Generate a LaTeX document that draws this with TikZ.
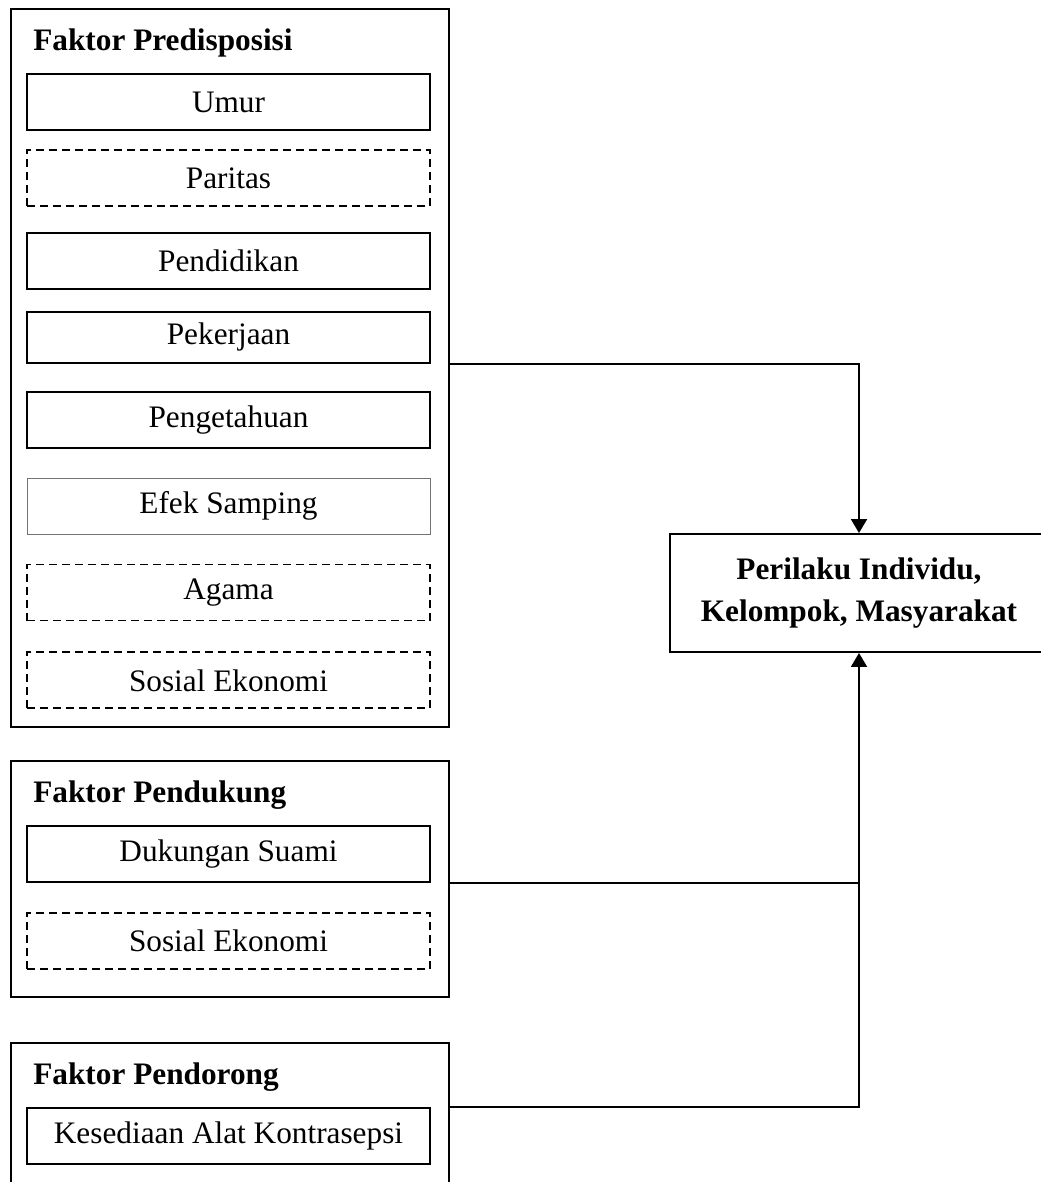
\documentclass[tikz,border=0pt]{standalone}
\usepackage{fontspec}
\setmainfont{Liberation Serif}
\usetikzlibrary{shapes,positioning,arrows,arrows.meta}

\begin{document}
\begin{tikzpicture}[>={Triangle[length=0.28cm,width=0.32cm]},
  font=\fontsize{17.8}{21}\selectfont,
  grup/.style={draw, line width=1.1pt, minimum width=8.76cm, anchor=north west, inner sep=0},
  judul/.style={anchor=base west, inner sep=0, font=\fontsize{17.8}{21}\selectfont\bfseries},
  kotak/.style={draw, line width=1.1pt, minimum width=8.06cm, minimum height=1.12cm, inner sep=0},
  putus/.style={kotak, dash pattern=on 0.16cm off 0.1cm},
  tipis/.style={kotak, line width=0.5pt, draw=black!55},
  hasil/.style={draw, line width=1.1pt, minimum width=7.56cm, minimum height=2.36cm, align=center,
    font=\fontsize{17.8}{24.4}\selectfont\bfseries},
  garis/.style={line width=1.1pt}]
\useasboundingbox (0,0) rectangle (20.82,-23.64);
% faktor predisposisi
\node[grup, minimum height=14.36cm] (pred) at (0.2,-0.16) {};
\node[judul] (tpred) at (0.66,-1.0) {Faktor Predisposisi};
\node[kotak, anchor=north] (umur) at (4.57,-1.46) {Umur};
\node[putus] (paritas) [below=0.36cm of umur] {Paritas};
\node[kotak] (didik) [below=0.50cm of paritas] {Pendidikan};
\node[kotak, minimum height=1.02cm] (kerja) [below=0.42cm of didik] {Pekerjaan};
\node[kotak] (tahu) [below=0.54cm of kerja] {Pengetahuan};
\node[tipis] (efek) [below=0.58cm of tahu] {Efek Samping};
\node[putus] (agama) [below=0.58cm of efek] {Agama};
\node[putus] (sosek) [below=0.60cm of agama] {Sosial Ekonomi};
% faktor pendukung
\node[grup, minimum height=4.72cm] (dukung) at (0.2,-15.2) {};
\node[judul] (tdukung) at (0.66,-16.04) {Faktor Pendukung};
\node[kotak, anchor=north] (suami) at (4.57,-16.5) {Dukungan Suami};
\node[putus] (sosek2) [below=0.58cm of suami] {Sosial Ekonomi};
% faktor pendorong
\node[grup, minimum height=3.4cm] (dorong) at (0.2,-20.84) {};
\node[judul] (tdorong) at (0.66,-21.68) {Faktor Pendorong};
\node[kotak, anchor=north] (alat) at (4.57,-22.14) {Kesediaan Alat Kontrasepsi};
% perilaku
\node[hasil] (perilaku) at (17.18,-11.86) {Perilaku Individu,\\Kelompok, Masyarakat};
\draw[garis,->] (pred.east |- kerja.south) -| (perilaku.north);
\draw[garis,->] (dorong.east |- alat.north) -| (perilaku.south);
\draw[garis] (dukung.east |- suami.south) -- (perilaku.south |- suami.south);
\end{tikzpicture}
\end{document}
